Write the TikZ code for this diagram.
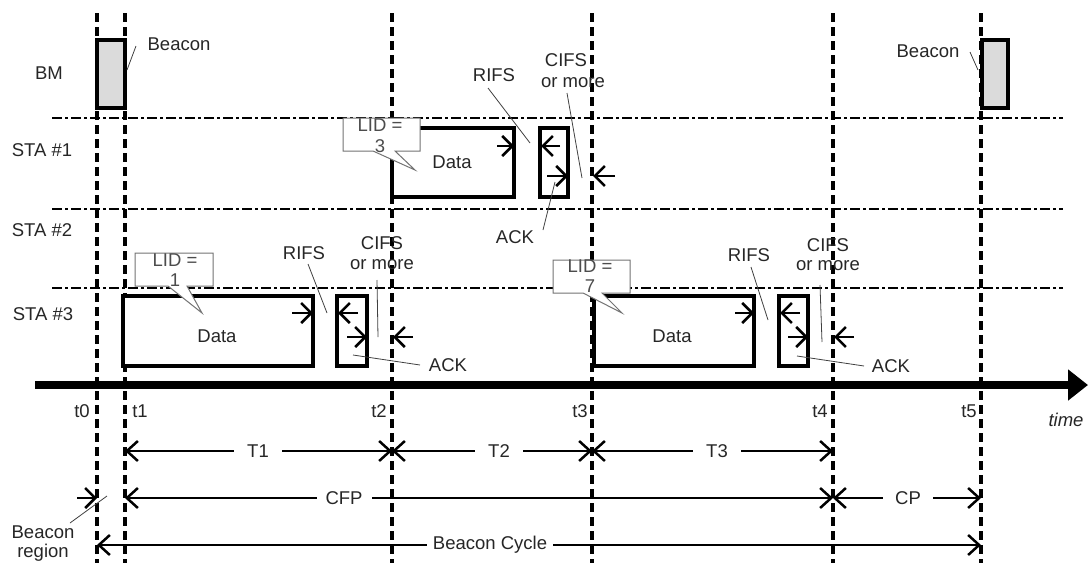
\documentclass[tikz,border=0pt]{standalone}
\usepackage{fontspec}
\setmainfont{Liberation Sans}
\usetikzlibrary{arrows.meta}
\begin{document}
\begin{tikzpicture}[x=1pt,y=-1pt,
  lbl/.style={font=\fontsize{18.5}{20}\selectfont, inner sep=0pt, text=black!85},
  vdash/.style={line width=3.5pt, dash pattern=on 9pt off 5pt},
  hdash/.style={line width=1.1pt, dash pattern=on 10pt off 3pt on 3pt off 3pt},
  frame/.style={draw, line width=4pt, fill=white},
  beaconbox/.style={draw, line width=4pt, fill=black!14},
  leader/.style={line width=0.8pt, draw=black!75},
  tick/.style={line width=2.5pt, -{Straight Barb[length=10pt,width=20pt]}},
  dim/.style={line width=2.5pt, {Straight Barb[length=11pt,width=20pt]}-{Straight Barb[length=11pt,width=20pt]}},
  dimlbl/.style={lbl, fill=white, inner xsep=13pt, inner ysep=2pt},
  callout/.style={draw=black!55, line width=1pt, fill=white},
  lidtxt/.style={lbl, text=black!70}
]
\useasboundingbox (0,0) rectangle (1088,563);

% horizontal row separators
\foreach \y in {118,209,288} \draw[hdash] (52,\y) -- (1063,\y);

% vertical time lines
\foreach \n/\x in {0/97,1/125,2/392,3/592,4/833,5/981} {
  \coordinate (top\n) at (\x,13);
  \coordinate (bot\n) at (\x,563);
  \draw[vdash] (top\n) -- (bot\n);
}

% row labels
\node[lbl] (bm) at (49,73) {BM};
\node[lbl] (sta1) at (42,150) {STA \#1};
\node[lbl] (sta2) at (42,230) {STA \#2};
\node[lbl] (sta3) at (43,314) {STA \#3};

% beacons
\draw[beaconbox] (97,40) rectangle (125,108);
\draw[beaconbox] (982,40) rectangle (1008,108);
\node[lbl] (bcn1) at (179,44) {Beacon};
\draw[leader] (136,46) -- (127,70);
\node[lbl] (bcn2) at (928,51) {Beacon};
\draw[leader] (970,52) -- (978,70);

% ===== STA #1 =====
\draw[frame] (392,128) rectangle (514,197);
\node[lbl] (d1) at (452,162) {Data};
\draw[frame] (540,128) rectangle (568,197);
\draw[tick] (497,146) -- (514,146);
\draw[tick] (560,146) -- (541,146);
\draw[tick] (547,176) -- (568,176);
\draw[tick] (615,176) -- (593,176);
\draw[callout] (343,118) -- (420,118) -- (420,151) -- (395,151) -- (415,170) -- (373,151) -- (343,151) -- cycle;
\node[lidtxt] (lid3a) at (380,125) {LID =};
\node[lidtxt] (lid3b) at (380,146) {3};
\node[lbl] (rifs1) at (494,75) {RIFS};
\draw[leader] (488,88) -- (530,143);
\node[lbl] (cifs1) at (566,60) {CIFS};
\node[lbl] (more1) at (573,83) {or more};
\draw[leader] (567,93) -- (582,178);
\node[lbl] (ack1) at (515,237) {ACK};
\draw[leader] (543,230) -- (555,182);

% ===== STA #3, first =====
\draw[frame] (123,296) rectangle (313,366);
\node[lbl] (d2) at (217,336) {Data};
\draw[frame] (337,296) rectangle (367,366);
\draw[tick] (292,313) -- (313,313);
\draw[tick] (358,313) -- (338,313);
\draw[tick] (347,337) -- (367,337);
\draw[tick] (413,337) -- (393,337);
\draw[callout] (135,253) -- (213,253) -- (213,286) -- (187,286) -- (202,313) -- (168,286) -- (135,286) -- cycle;
\node[lidtxt] (lid1a) at (175,260) {LID =};
\node[lidtxt] (lid1b) at (175,280) {1};
\node[lbl] (rifs2) at (304,253) {RIFS};
\draw[leader] (308,264) -- (327,313);
\node[lbl] (cifs2) at (382,243) {CIFS};
\node[lbl] (more2) at (382,265) {or more};
\draw[leader] (377,280) -- (378,337);
\node[lbl] (ack2) at (448,365) {ACK};
\draw[leader] (353,355) -- (420,365);

% ===== STA #3, second =====
\draw[frame] (594,296) rectangle (754,366);
\node[lbl] (d3) at (672,336) {Data};
\draw[frame] (779,296) rectangle (808,366);
\draw[tick] (735,313) -- (754,313);
\draw[tick] (800,313) -- (780,313);
\draw[tick] (788,337) -- (808,337);
\draw[tick] (854,337) -- (834,337);
\draw[callout] (553,260) -- (630,260) -- (630,293) -- (602,293) -- (622,313) -- (583,293) -- (553,293) -- cycle;
\node[lidtxt] (lid7a) at (590,266) {LID =};
\node[lidtxt] (lid7b) at (590,286) {7};
\node[lbl] (rifs3) at (749,255) {RIFS};
\draw[leader] (751,267) -- (768,320);
\node[lbl] (cifs3) at (828,245) {CIFS};
\node[lbl] (more3) at (828,266) {or more};
\draw[leader] (820,285) -- (822,342);
\node[lbl] (ack3) at (891,366) {ACK};
\draw[leader] (797,356) -- (864,366);

% ===== time axis =====
\coordinate (axs) at (35,385);
\coordinate (axe) at (1088,385);
\draw[line width=8pt, -{Triangle[length=20pt,width=30pt]}] (axs) -- (axe);
\node[lbl] (lt0) at (82,411) {t0};
\node[lbl] (lt1) at (140,411) {t1};
\node[lbl] (lt2) at (379,411) {t2};
\node[lbl] (lt3) at (580,411) {t3};
\node[lbl] (lt4) at (820,411) {t4};
\node[lbl] (lt5) at (969,411) {t5};
\node[lbl, font=\fontsize{18.5}{20}\selectfont\itshape] (ltime) at (1066,420) {time};

% ===== interval rows =====
\draw[dim] (125,451) -- (392,451);
\draw[dim] (392,451) -- (592,451);
\draw[dim] (592,451) -- (833,451);
\node[dimlbl] (T1) at (258,451) {T1};
\node[dimlbl] (T2) at (499,451) {T2};
\node[dimlbl] (T3) at (717,451) {T3};

\draw[dim] (125,498) -- (833,498);
\draw[dim] (833,498) -- (981,498);
\node[dimlbl, inner xsep=9pt] (cfp) at (344,498) {CFP};
\node[dimlbl, inner xsep=12pt] (cp) at (908,498) {CP};
\draw[tick] (77,498) -- (97,498);

\draw[dim] (97,545) -- (981,545);
\node[dimlbl, inner xsep=6pt] (bc) at (490,545) {Beacon Cycle};

\node[lbl] (br1) at (43,532) {Beacon};
\node[lbl] (br2) at (43,553) {region};
\draw[leader] (70,523) -- (107,496);
\end{tikzpicture}
\end{document}
